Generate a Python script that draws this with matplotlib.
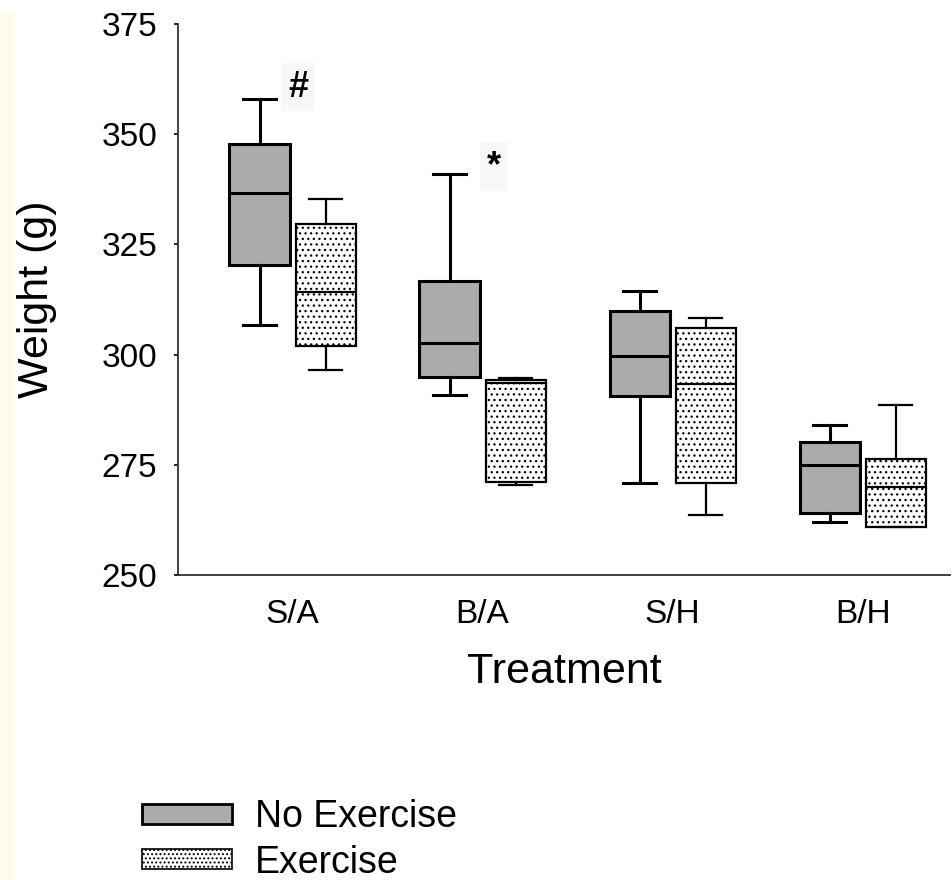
import matplotlib
matplotlib.use('Agg')
import matplotlib.pyplot as plt
from matplotlib.patches import Patch, Rectangle

plt.rcParams['font.family'] = ['Liberation Sans', 'DejaVu Sans']
plt.rcParams['hatch.linewidth'] = 0.9

treatments = ['S/A', 'B/A', 'S/H', 'B/H']

# box stats: whisker low, q1, median, q3, whisker high
no_ex_lo = [306.8, 290.9, 270.8, 262.0]
no_ex_q1 = [320.4, 294.9, 290.5, 264.0]
no_ex_med = [336.7, 302.7, 299.6, 275.0]
no_ex_q3 = [347.7, 316.8, 310.0, 280.1]
no_ex_hi = [357.9, 340.9, 314.4, 284.1]

ex_lo = [296.6, 270.5, 263.5, 261.0]
ex_q1 = [301.9, 271.2, 270.8, 261.0]
ex_med = [314.2, 293.6, 293.4, 269.9]
ex_q3 = [329.7, 294.2, 306.0, 276.3]
ex_hi = [335.2, 294.8, 308.3, 288.6]

marks = ['#', '*']
mark_x = [1.03, 2.06]
mark_y = [360.7, 342.7]


def stats(lo, q1, med, q3, hi):
    return [dict(whislo=a, q1=b, med=c, q3=d, whishi=e, fliers=[])
            for a, b, c, d, e in zip(lo, q1, med, q3, hi)]


fig = plt.figure(figsize=(9.53, 8.8), dpi=100)
fig.patches.append(Rectangle((0, 0), 14 / 953, 1 - 12 / 880, transform=fig.transFigure,
                             facecolor='#fffbec', edgecolor='none', zorder=-10))
ax = fig.add_axes([178 / 953, 1 - 575 / 880, 772 / 953, 551 / 880])

pos = list(range(1, len(treatments) + 1))
off = 0.174
w = 0.316
cw = 0.174

ax.bxp(stats(no_ex_lo, no_ex_q1, no_ex_med, no_ex_q3, no_ex_hi),
       positions=[p - off for p in pos], widths=w, capwidths=cw,
       showfliers=False, patch_artist=True,
       boxprops=dict(facecolor='#ababab', edgecolor='black', linewidth=2.2),
       medianprops=dict(color='black', linewidth=2.2),
       whiskerprops=dict(color='black', linewidth=2.2),
       capprops=dict(color='black', linewidth=2.2))

ax.bxp(stats(ex_lo, ex_q1, ex_med, ex_q3, ex_hi),
       positions=[p + off for p in pos], widths=w, capwidths=cw,
       showfliers=False, patch_artist=True,
       boxprops=dict(facecolor='white', edgecolor='black', linewidth=1.6, hatch='...'),
       medianprops=dict(color='black', linewidth=1.6),
       whiskerprops=dict(color='black', linewidth=1.6),
       capprops=dict(color='black', linewidth=1.6))

for m, x, y in zip(marks, mark_x, mark_y):
    ax.text(x, y, m, fontsize=26, fontweight='bold', ha='center', va='center',
            bbox=dict(facecolor='#f8f8f8', edgecolor='none', pad=5))

ax.set_xlim(0.397, 4.46)
ax.set_ylim(250, 375)
ax.set_xticks(pos)
ax.set_xticklabels(treatments)
ax.set_yticks([250, 275, 300, 325, 350, 375])
ax.tick_params(axis='x', length=0, pad=17, labelsize=24)
ax.tick_params(axis='y', length=3, width=1.2, pad=12, labelsize=24, direction='out')
ax.spines['top'].set_visible(False)
ax.spines['right'].set_visible(False)
for s in ['left', 'bottom']:
    ax.spines[s].set_linewidth(1.3)
    ax.spines[s].set_color('#333333')

ax.set_xlabel('Treatment', fontsize=31, labelpad=16)
ax.set_ylabel('Weight (g)', fontsize=31, labelpad=32)

handles = [Patch(facecolor='#ababab', edgecolor='black', linewidth=2.0, label='No Exercise'),
           Patch(facecolor='white', edgecolor='black', linewidth=1.2, hatch='....', label='Exercise')]
fig.legend(handles=handles, loc='upper left', bbox_to_anchor=(142 / 953, 1 - 799 / 880),
           frameon=False, fontsize=27, handlelength=2.4, handleheight=0.45,
           handletextpad=0.62, labelspacing=0.26, borderpad=0, borderaxespad=0)

fig.savefig('out.png', dpi=100)
